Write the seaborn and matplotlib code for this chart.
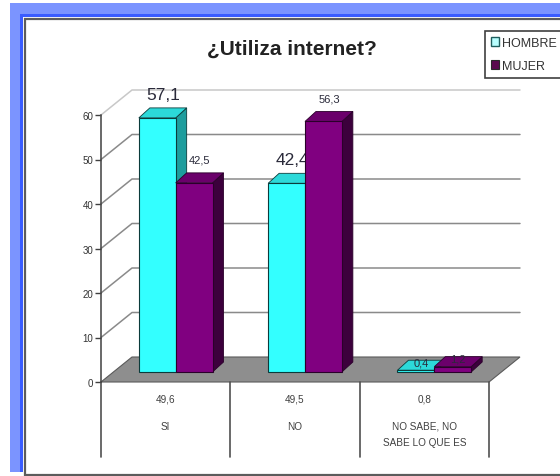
import numpy as np
import pandas as pd
import matplotlib
matplotlib.use("Agg")
import matplotlib.pyplot as plt
import matplotlib.transforms as mtrans
from matplotlib.patches import Polygon, Rectangle, Patch
import seaborn as sns

# ---------------- data ----------------
categories = ["SI", "NO", "NO SABE, NO\nSABE LO QUE ES"]
series = ["HOMBRE", "MUJER"]
hombre = [57.1, 42.4, 0.4]
mujer = [42.5, 56.3, 1.2]
totales = [49.6, 49.5, 0.8]
yticks = [0, 10, 20, 30, 40, 50, 60]
title = "¿Utiliza internet?"

# ---------------- style ----------------
W, H = 560, 477
sns.set_theme(style="white")
plt.rcParams["font.family"] = ["Liberation Sans", "DejaVu Sans"]

CYAN, PURPLE = "#33ffff", "#800080"
SIDE = {"HOMBRE": "#1d9d9d", "MUJER": "#3c003c"}
TOP = {"HOMBRE": "#2cd9d9", "MUJER": "#6b006b"}
EDGE = {"HOMBRE": "#0b3b3b", "MUJER": "#2a002a"}

fig = plt.figure(figsize=(W / 100, H / 100), dpi=100)
fig.patch.set_facecolor("white")


def fx(px):
    return px / W


def fy(py):
    return 1 - py / H


def frect(x0, y0, x1, y1, **kw):
    fig.add_artist(Rectangle((fx(x0), fy(y1)), fx(x1) - fx(x0), fy(y0) - fy(y1),
                             transform=fig.transFigure, zorder=-5, **kw))


# blue frame and chart area
frect(10, 4, 560, 17, facecolor="#7b94ff", edgecolor="none")
frect(10, 4, 23, 473, facecolor="#7b94ff", edgecolor="none")
frect(20, 15, 560, 18, facecolor="#3a5cff", edgecolor="none")
frect(20, 15, 23, 473, facecolor="#3a5cff", edgecolor="none")
frect(25, 19.5, 620, 476, facecolor="white", edgecolor="#5c5c5c", lw=1.6)

# ---------------- axes ----------------
ax = fig.add_axes([fx(101), fy(383), fx(489) - fx(101), fy(116) - fy(383)])
ax.set_facecolor("none")
ax.set_zorder(2)

df = pd.DataFrame({
    "cat": categories * 2,
    "sexo": [series[0]] * len(categories) + [series[1]] * len(categories),
    "val": hombre + mujer,
})

sns.barplot(data=df, x="cat", y="val", hue="sexo", order=categories,
            hue_order=series, palette=[CYAN, PURPLE], width=0.57,
            saturation=1, legend=False, ax=ax, linewidth=0.8,
            edgecolor="#1a1a1a", zorder=3)
bars = list(ax.patches)

ax.set_xlim(-0.5, len(categories) - 0.5)
ax.set_ylim(0, 60)
ax.set_yticks(yticks)
ax.set_xticks([])
ax.set_xlabel("")
ax.set_ylabel("")
for s in ["top", "right", "bottom"]:
    ax.spines[s].set_visible(False)
ax.spines["left"].set_color("#404040")
ax.spines["left"].set_linewidth(1.1)
ax.spines["left"].set_zorder(5)
ax.tick_params(axis="y", left=True, length=4, width=1, color="#404040",
               labelsize=7, labelcolor="#333333", pad=1.5)

# pixel -> data conversions
p0 = ax.transData.transform((0, 0))
sx = ax.transData.transform((1, 0))[0] - p0[0]
sy = ax.transData.transform((0, 1))[1] - p0[1]

xl, xr = ax.get_xlim()
fdx, fdy = 31 / sx, 25 / sy          # floor / wall depth
bdx, bdy = 11 / sx, 10 / sy          # bar depth
shift = ax.transData + mtrans.ScaledTranslation(10 / 100, 10 / 100, fig.dpi_scale_trans)

# floor
ax.add_patch(Polygon([(xl, 0), (xr, 0), (xr + fdx, fdy), (xl + fdx, fdy)],
                     closed=True, facecolor="#8e8e8e", edgecolor="#5a5a5a",
                     lw=0.8, zorder=1, clip_on=False))

# back wall gridlines
for v in yticks[1:]:
    col = "#c8c8c8" if v == yticks[-1] else "#8a8a8a"
    ax.plot([xl, xl + fdx, xr + fdx], [v, v + fdy, v + fdy], color=col,
            lw=1.1, zorder=0.8, clip_on=False)

# 3D bars
n = len(categories)
for i, p in enumerate(bars):
    s = series[i // n]
    k = i // n
    x0, w, h = p.get_x(), p.get_width(), p.get_height()
    z = 3 + k
    p.set_transform(shift)
    p.set_zorder(z + 0.5)
    p.set_edgecolor(EDGE[s])
    p.set_clip_on(False)
    side = Polygon([(x0 + w, 0), (x0 + w + bdx, bdy), (x0 + w + bdx, h + bdy), (x0 + w, h)],
                   closed=True, facecolor=SIDE[s], edgecolor=EDGE[s], lw=0.6,
                   zorder=z + 0.2, transform=shift, clip_on=False)
    top = Polygon([(x0, h), (x0 + bdx, h + bdy), (x0 + w + bdx, h + bdy), (x0 + w, h)],
                  closed=True, facecolor=TOP[s], edgecolor=EDGE[s], lw=0.6,
                  zorder=z + 0.3, transform=shift, clip_on=False)
    ax.add_patch(side)
    ax.add_patch(top)
    big = (s == series[0]) and h >= 5
    tiny = h < 5
    txt = f"{h:.1f}".replace(".", ",")
    if tiny:
        lab_off = mtrans.offset_copy(shift, fig=fig, x=0, y=-2, units="dots")
        va = "center"
    else:
        lab_off = mtrans.offset_copy(shift, fig=fig, x=0, y=(6 if big else 8), units="dots")
        va = "bottom"
    ax.text(x0 + w / 2 + bdx / 2, h + bdy, txt, transform=lab_off,
            ha="center", va=va, fontsize=12.5 if big else 8,
            color="#2a2a3a", zorder=6 if not (big and i % n == 1) else 3.7,
            clip_on=False)

# table below the floor
tb = mtrans.blended_transform_factory(ax.transData, ax.transAxes)
table_bottom = -(458 - 383) / (383 - 116)
for b in np.arange(xl, xr + 0.01, 1.0):
    ax.plot([b, b], [0, table_bottom], transform=tb, color="#505050",
            lw=1.2, zorder=2, clip_on=False)
for i, (c, t) in enumerate(zip(categories, totales)):
    ax.text(i, -(400 - 383) / (383 - 116), f"{t:.1f}".replace(".", ","),
            transform=tb, ha="center", va="center", fontsize=7.2,
            color="#404040", clip_on=False)
    ax.text(i, -(422 - 383) / (383 - 116), c, transform=tb, ha="center",
            va="top", fontsize=7.2, color="#404040", linespacing=1.7,
            clip_on=False)

# title
fig.text(fx(292), fy(49), title, ha="center", va="center", fontsize=15,
         fontweight="bold", color="#222222")

# legend
handles = [Patch(facecolor="#b8ffff", edgecolor="#1f5f5f", lw=1.0),
           Patch(facecolor="#5a0a4e", edgecolor="#2a2a2a", lw=0.8)]
leg = fig.legend(handles, series, loc="upper left",
                 bbox_to_anchor=(fx(485), fy(32)), bbox_transform=fig.transFigure,
                 fontsize=9, frameon=True, fancybox=False, framealpha=1,
                 edgecolor="#404040", handlelength=0.7, handleheight=0.7,
                 handletextpad=0.2, labelspacing=0.9, borderpad=0.45,
                 borderaxespad=0)
leg.get_frame().set_linewidth(1.2)
for t in leg.get_texts():
    t.set_color("#333333")

fig.savefig("out.png", dpi=100)
